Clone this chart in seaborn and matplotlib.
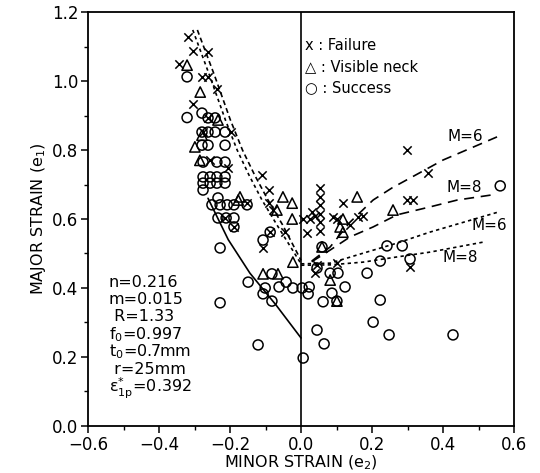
import numpy as np
import pandas as pd
import matplotlib
matplotlib.use("Agg")
import matplotlib.pyplot as plt
from matplotlib.ticker import MultipleLocator, FuncFormatter
import seaborn as sns

# ---------------- data ----------------
fail_e2 = [-0.318, -0.304, -0.262, -0.344, -0.279, -0.262, -0.237, -0.304, -0.197,
           -0.206, -0.110, -0.090, -0.090, -0.079, -0.045, -0.107, -0.087,
           -0.262, -0.256, -0.214, -0.189, -0.276,
           0.054, 0.054, 0.054, 0.054, 0.054, 0.054,
           0.031, 0.017, 0.118, 0.101, 0.090, 0.161, 0.175, 0.138,
           0.299, 0.358, 0.299, 0.315, 0.045, 0.101, 0.039, 0.307,
           0.006, 0.025, 0.040, -0.152]
fail_e1 = [1.128, 1.087, 1.084, 1.048, 1.012, 1.012, 0.976, 0.934, 0.852,
           0.748, 0.728, 0.684, 0.646, 0.626, 0.562, 0.516, 0.562,
           0.893, 0.771, 0.603, 0.577, 0.852,
           0.690, 0.665, 0.640, 0.615, 0.590, 0.565,
           0.620, 0.559, 0.646, 0.600, 0.606, 0.606, 0.609, 0.583,
           0.800, 0.733, 0.655, 0.655, 0.467, 0.472, 0.443, 0.461,
           0.600, 0.600, 0.610, 0.646]

neck_e2 = [-0.321, -0.284, -0.234, -0.279, -0.299, -0.285, -0.172, -0.051, -0.025,
           -0.068, -0.025, 0.118, 0.110, 0.118, 0.158, 0.259, -0.023, -0.065,
           -0.107, 0.082, 0.101, 0.059, -0.177]
neck_e1 = [1.046, 0.968, 0.887, 0.843, 0.809, 0.770, 0.664, 0.664, 0.646,
           0.626, 0.600, 0.600, 0.577, 0.562, 0.664, 0.626, 0.475, 0.441,
           0.441, 0.423, 0.362, 0.519, 0.655]

succ_e2 = [-0.321, -0.321, -0.279, -0.262, -0.242,
           -0.279, -0.262, -0.242, -0.214,
           -0.279, -0.262, -0.214,
           -0.276, -0.237, -0.214,
           -0.276, -0.256, -0.237, -0.214,
           -0.276, -0.256, -0.237, -0.214,
           -0.276, -0.234,
           -0.251, -0.228, -0.208, -0.189, -0.152,
           -0.234, -0.211, -0.189, -0.189,
           -0.228, -0.149, -0.228, -0.107, -0.087,
           0.059, 0.045, 0.082, 0.104, 0.124, 0.087, 0.062, 0.023, 0.003,
           -0.023, -0.042, -0.062, -0.101, -0.107, -0.082, -0.082, 0.020, 0.101,
           0.186, 0.223, 0.203, 0.045, 0.065, 0.248, 0.242, 0.285, 0.223,
           0.307, 0.428, 0.561, -0.121, 0.006]
succ_e1 = [1.012, 0.894, 0.907, 0.893, 0.893,
           0.852, 0.852, 0.852, 0.852,
           0.814, 0.814, 0.814,
           0.765, 0.765, 0.765,
           0.722, 0.722, 0.722, 0.722,
           0.704, 0.704, 0.704, 0.704,
           0.684, 0.661,
           0.641, 0.641, 0.641, 0.641, 0.641,
           0.603, 0.603, 0.603, 0.577,
           0.516, 0.417, 0.357, 0.539, 0.562,
           0.519, 0.458, 0.443, 0.443, 0.403, 0.385, 0.360, 0.403, 0.400,
           0.400, 0.417, 0.403, 0.400, 0.383, 0.441, 0.362, 0.383, 0.362,
           0.443, 0.365, 0.301, 0.278, 0.238, 0.264, 0.522, 0.522, 0.478,
           0.484, 0.264, 0.696, 0.235, 0.197]

# curves
solid_e2 = [-0.262, -0.205, -0.144, -0.070, 0.0]
solid_e1 = [0.660, 0.540, 0.443, 0.350, 0.255]

left_dash_e2 = [-0.292, -0.244, -0.199, -0.165, -0.131, -0.093, -0.052, 0.0]
left_dash_e1 = [1.148, 1.017, 0.887, 0.800, 0.728, 0.655, 0.583, 0.480]
left_dot_e2 = [-0.305, -0.258, -0.213, -0.180, -0.147, -0.110, -0.068, 0.0]
left_dot_e1 = [1.148, 1.017, 0.887, 0.800, 0.728, 0.655, 0.583, 0.470]

m6_dash_e2 = [0.03, 0.082, 0.138, 0.203, 0.256, 0.313, 0.400, 0.552]
m6_dash_e1 = [0.478, 0.519, 0.591, 0.655, 0.690, 0.722, 0.771, 0.838]
m8_dash_e2 = [0.03, 0.082, 0.138, 0.203, 0.270, 0.363, 0.440, 0.552]
m8_dash_e1 = [0.476, 0.510, 0.548, 0.577, 0.612, 0.635, 0.655, 0.672]
m6_dot_e2 = [0.0, 0.082, 0.175, 0.270, 0.363, 0.555]
m6_dot_e1 = [0.470, 0.472, 0.501, 0.530, 0.562, 0.620]
m8_dot_e2 = [0.0, 0.082, 0.175, 0.270, 0.363, 0.513]
m8_dot_e1 = [0.466, 0.467, 0.475, 0.490, 0.504, 0.533]

legend_labels = ["x : Failure", "\u25b3 : Visible neck", "\u25cb : Success"]
param_lines = ["n=0.216", "m=0.015", " R=1.33", "f$_0$=0.997", "t$_0$=0.7mm",
               " r=25mm", "\u03b5$^{*}_{\\mathrm{1p}}$=0.392"]
curve_labels = ["M=6", "M=8", "M=6", "M=8"]
xticks = [-0.6, -0.4, -0.2, 0.0, 0.2, 0.4, 0.6]
yticks = [0.0, 0.2, 0.4, 0.6, 0.8, 1.0, 1.2]

# ---------------- plotting ----------------
sns.set_style("ticks")
plt.rcParams['font.family'] = ['DejaVu Sans']
plt.rcParams['mathtext.fontset'] = 'dejavusans'
for key in ['text.color', 'axes.labelcolor', 'xtick.color', 'ytick.color', 'axes.edgecolor']:
    plt.rcParams[key] = 'black'

fig = plt.figure(figsize=(5.4, 4.73), dpi=100)
ax = fig.add_axes([0.163, 0.0994, 0.789, 0.8752])

k = "black"
def line(x, y, **kw):
    sns.lineplot(x=x, y=y, sort=False, estimator=None, color=k, ax=ax, **kw)

line(solid_e2, solid_e1, linewidth=1.2)
line(left_dash_e2, left_dash_e1, linewidth=1.2, dashes=(3, 2))
line(left_dot_e2, left_dot_e1, linewidth=1.2, dashes=(2, 2))
line(m6_dash_e2, m6_dash_e1, linewidth=1.2, dashes=(6, 4))
line(m8_dash_e2, m8_dash_e1, linewidth=1.2, dashes=(6, 4))
line(m6_dot_e2, m6_dot_e1, linewidth=1.2, dashes=(2, 2))
line(m8_dot_e2, m8_dot_e1, linewidth=1.2, dashes=(2, 2))

sns.scatterplot(x=succ_e2, y=succ_e1, marker="o", s=52, facecolors="none",
                edgecolor=k, linewidth=1.1, ax=ax, zorder=3)
sns.scatterplot(x=neck_e2, y=neck_e1, marker="^", s=55, facecolors="none",
                edgecolor=k, linewidth=1.1, ax=ax, zorder=3)
sns.scatterplot(x=fail_e2, y=fail_e1, marker="x", s=36, color=k,
                linewidth=1.1, ax=ax, zorder=4)

ax.axvline(0.0, color=k, linewidth=1.2)

ax.set_xlim(-0.6, 0.6)
ax.set_ylim(0.0, 1.2)
ax.set_xticks(xticks)
ax.set_yticks(yticks)
ax.xaxis.set_minor_locator(MultipleLocator(0.1))
ax.yaxis.set_minor_locator(MultipleLocator(0.1))
fmt = FuncFormatter(lambda v, p: ("\u2212" if v < -1e-9 else "") + f"{abs(v):.1f}")
ax.xaxis.set_major_formatter(fmt)
ax.yaxis.set_major_formatter(fmt)
ax.tick_params(which="major", direction="out", length=5, width=1.1, labelsize=12,
               colors=k, pad=2)
ax.tick_params(which="minor", direction="out", length=3, width=1.0)
for s in ax.spines.values():
    s.set_visible(True)
    s.set_linewidth(1.3)
    s.set_color(k)

ax.set_xlabel("MINOR STRAIN (e$_2$)", fontsize=11.5, labelpad=0)
ax.set_ylabel("MAJOR STRAIN (e$_1$)", fontsize=11.5, labelpad=3)

# legend text block
for i, t in enumerate(legend_labels):
    ax.text(0.012, 1.104 - i * 0.061, t, fontsize=10.5, va="center", ha="left")

# parameter text block
param_y = [0.417, 0.366, 0.316, 0.265, 0.215, 0.164, 0.108]
for t, yy in zip(param_lines, param_y):
    ax.text(-0.541, yy, t, fontsize=11.5, va="center", ha="left")

# curve labels
lab_pos_x = [0.462, 0.46, 0.53, 0.447]
lab_pos_y = [0.840, 0.690, 0.580, 0.488]
for t, xx, yy in zip(curve_labels, lab_pos_x, lab_pos_y):
    ax.text(xx, yy, t, fontsize=11, ha="center", va="center")

fig.savefig("out.png", dpi=100)
